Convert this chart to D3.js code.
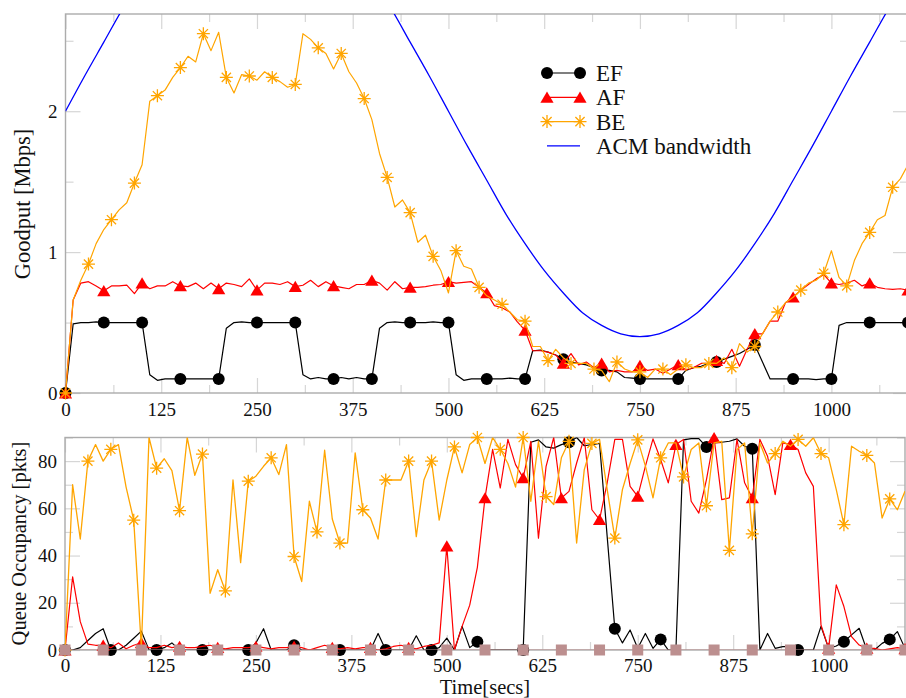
<!DOCTYPE html>
<html>
<head>
<meta charset="utf-8">
<script src="https://cdn.jsdelivr.net/npm/d3@7"></script>
<style>
  body { margin: 0; background: #fff; }
  svg { display: block; }
</style>
</head>
<body>
<svg id="chart" width="906" height="698"></svg>
<script>
// sampling grid (secs) shared by all measured series
const time = d3.range(0, 1101, 10);

// goodput [Mbps], one value per 10 s sample
const efGoodput = [0, 0.49, 0.50, 0.50, 0.505, 0.50, 0.50, 0.50, 0.50, 0.50, 0.50,
  0.13, 0.09, 0.10, 0.10, 0.10, 0.10, 0.10, 0.10, 0.10, 0.10,
  0.46, 0.50, 0.505, 0.50, 0.50, 0.50, 0.50, 0.50, 0.50, 0.50,
  0.13, 0.10, 0.11, 0.10, 0.10, 0.11, 0.10, 0.11, 0.10, 0.10,
  0.46, 0.50, 0.505, 0.50, 0.50, 0.50, 0.50, 0.505, 0.50, 0.50,
  0.13, 0.09, 0.10, 0.10, 0.10, 0.10, 0.10, 0.105, 0.10, 0.10,
  0.30, 0.305, 0.29, 0.27, 0.24, 0.22, 0.21, 0.20, 0.18, 0.16,
  0.16, 0.15, 0.11, 0.105, 0.10, 0.10, 0.10, 0.10, 0.10, 0.10,
  0.16, 0.18, 0.19, 0.21, 0.22, 0.24, 0.26, 0.28, 0.31, 0.34,
  0.22, 0.10, 0.10, 0.10, 0.10, 0.10, 0.10, 0.095, 0.10, 0.10,
  0.48, 0.50, 0.50, 0.50, 0.50, 0.50, 0.50, 0.50, 0.50, 0.50];

const afGoodput = [0, 0.66, 0.78, 0.79, 0.76, 0.725, 0.76, 0.76, 0.765, 0.705, 0.78,
  0.74, 0.76, 0.76, 0.79, 0.76, 0.755, 0.78, 0.74, 0.78, 0.74,
  0.78, 0.77, 0.755, 0.81, 0.73, 0.78, 0.78, 0.77, 0.79, 0.755,
  0.765, 0.80, 0.755, 0.79, 0.76, 0.75, 0.74, 0.77, 0.77, 0.80,
  0.78, 0.73, 0.79, 0.74, 0.75, 0.75, 0.755, 0.765, 0.77, 0.79,
  0.78, 0.785, 0.79, 0.75, 0.71, 0.62, 0.605, 0.575, 0.505, 0.445,
  0.30, 0.30, 0.29, 0.27, 0.21, 0.28, 0.20, 0.22, 0.18, 0.21,
  0.15, 0.16, 0.15, 0.15, 0.195, 0.16, 0.17, 0.14, 0.17, 0.20,
  0.165, 0.18, 0.21, 0.21, 0.23, 0.21, 0.31, 0.19, 0.31, 0.42,
  0.42, 0.51, 0.51, 0.64, 0.68, 0.73, 0.77, 0.81, 0.84, 0.78,
  0.77, 0.78, 0.80, 0.76, 0.78, 0.75, 0.74, 0.735, 0.74, 0.73];

const beGoodput = [0, 0.66, 0.80, 0.915, 1.06, 1.16, 1.23, 1.30, 1.35, 1.49, 1.62,
  2.07, 2.11, 2.15, 2.24, 2.31, 2.39, 2.35, 2.55, 2.43, 2.56,
  2.24, 2.13, 2.26, 2.25, 2.22, 2.28, 2.24, 2.21, 2.17, 2.19,
  2.55, 2.51, 2.45, 2.41, 2.30, 2.41, 2.28, 2.20, 2.09, 1.94,
  1.70, 1.53, 1.32, 1.37, 1.28, 1.07, 1.12, 0.97, 0.87, 0.71,
  1.01, 0.90, 0.88, 0.75, 0.69, 0.66, 0.63, 0.575, 0.52, 0.51,
  0.33, 0.33, 0.23, 0.31, 0.25, 0.21, 0.21, 0.21, 0.17, 0.16,
  0.08, 0.22, 0.17, 0.15, 0.15, 0.11, 0.17, 0.17, 0.13, 0.17,
  0.20, 0.18, 0.18, 0.21, 0.21, 0.25, 0.18, 0.35, 0.29, 0.33,
  0.42, 0.51, 0.575, 0.64, 0.68, 0.73, 0.78, 0.80, 0.85, 1.01,
  0.82, 0.76, 0.94, 1.06, 1.14, 1.23, 1.26, 1.46, 1.52, 1.62];

// ACM link bandwidth, read every 25 s
const acmTime = d3.range(0, 1101, 25);
const acmBandwidth = [2.00, 2.25, 2.49, 2.73, 2.94, 3.13, 3.29, 3.43, 3.52, 3.58, 3.60,
  3.58, 3.52, 3.43, 3.29, 3.13, 2.94, 2.73, 2.49, 2.25, 2.00,
  1.75, 1.51, 1.27, 1.06, 0.87, 0.71, 0.57, 0.48, 0.42, 0.40,
  0.42, 0.48, 0.57, 0.71, 0.87, 1.06, 1.27, 1.51, 1.75, 2.00,
  2.25, 2.49, 2.73, 2.94];

// queue occupancy [pkts], one value per 10 s sample
const efQueue = [0, 0, 1, 4, 7, 9, 0, 0, 2, 5, 8,
  0, 0, 1, 3, 0, 0, 0, 0, 0, 0,
  0, 0, 0, 0, 3, 9, 0, 0, 0, 2,
  0, 0, 0, 0, 0, 0, 0, 0, 0, 0,
  7, 0, 0, 0, 0, 6, 0, 0, 1, 5,
  0, 10, 1, 3.5, 0, 0, 0, 0, 0, 0,
  88, 89, 86, 85.5, 87, 88, 90, 86.5, 87, 87.5,
  48, 9, 3, 8.5, 0.7, 7, 0.7, 4.5, 0, 0,
  89, 89.5, 89.5, 86, 87.7, 88, 88.4, 89.4, 86.3, 85.2,
  0, 7, 0.7, 1.4, 1.4, 0, 0, 0, 10, 0.7,
  1.7, 3.5, 6.4, 9.2, 0, 0, 2.8, 4.5, 7.8, 0.7];

const afQueue = [0, 31, 12, 2.5, 2, 2, 1, 3, 0.5, 2, 3,
  1, 1, 2, 1, 1.5, 1, 1, 1.5, 2, 1,
  0.5, 1, 1, 1, 1.5, 1, 0.5, 1, 1, 1.5,
  1, 0, 1, 2, 1, 0.5, 1, 0.5, 1, 1,
  0, 0.5, 1.5, 2, 1, 0.5, 1.5, 2, 3, 44,
  0, 10, 19, 35, 64.4, 85, 68.6, 89.2, 78.5, 72.9,
  88.4, 47.4, 77.8, 90, 64.4, 67.2, 79.2, 89.9, 59.4, 55.2,
  70.8, 89.2, 89.2, 69.3, 65.1, 77.8, 89.4, 80.7, 70.8, 87,
  89.2, 63, 58, 72.2, 89.9, 63.7, 64.4, 89.2, 70.8, 64.4,
  89.2, 82.1, 65.8, 87.7, 87, 84.9, 75, 69.3, 10.6, 0.7,
  27.6, 18.4, 5.7, 2.1, 0.7, 0.7, 0, 0.5, 1, 0.5];

const beQueue = [0, 70, 47, 80, 87, 80, 85, 87, 69, 55, 1,
  90, 77, 81, 76, 59, 90, 74, 83, 24, 34,
  25, 72, 37, 71.5, 73.6, 77.8, 81.4, 74.3, 87, 39.6,
  29, 63, 50, 84.6, 55.5, 45.3, 45.3, 83.5, 59.4, 55.9,
  47, 72, 72, 72, 80, 48, 72, 80, 55, 72,
  86, 75, 87, 90, 79, 90, 85, 79, 69, 90,
  63, 88.4, 65, 61.6, 81.4, 88.4, 45.3, 76.4, 87.5, 89.2,
  68, 47.4, 68, 79, 89, 78, 64.4, 81.4, 87.7, 87.7,
  73.3, 84.9, 87.7, 61.1, 87.7, 88.4, 42.2, 84.9, 87.7, 49.2,
  87.7, 79.2, 83.2, 88.4, 86.3, 89.2, 86.3, 89.9, 83.2, 81.4,
  67.9, 53.1, 86.3, 84.2, 82.4, 79.2, 55.9, 64, 59.4, 67.2];

// fourth queue, empty the whole run (square markers every 50 s)
const sqTime = d3.range(0, 1101, 50);
const sqQueue = [0, 0, 0, 0, 0, 0, 0, 0, 0, 0, 0, 0, 0, 0, 0, 0, 0, 0, 0, 0, 0, 0, 0];

// tick values
const xMajor = d3.range(0, 1001, 125);
const xMinor = d3.range(62.5, 1100, 125);
const goodputMajor = [0, 1, 2];
const goodputMinor = [0.5, 1.5, 2.5];
const queueMajor = [0, 20, 40, 60, 80];
const queueMinor = [10, 30, 50, 70, 90];

const FONT = '"Liberation Serif", "Times New Roman", Times, serif';
const FRAME_COLOR = '#acacac';
const TICK_COLOR = '#d6d6d6';
const COLORS = { ef: '#000000', af: '#ff0000', be: '#ffa500', acm: '#0000ff', sq: '#bc8f8f' };

const svg = d3.select('#chart').attr('font-family', FONT);

// marker painters, each draws centered on (0,0)
const markers = {
  circle: (g, c) => g.append('circle').attr('r', 6).attr('fill', c),
  triangle: (g, c) => g.append('path').attr('d', 'M0,-5.8L6.6,5.4L-6.6,5.4Z').attr('fill', c),
  star: (g, c) => g.append('path')
    .attr('d', 'M-6.5,0H6.5M0,-6.5V6.5M-4.6,-4.6L4.6,4.6M-4.6,4.6L4.6,-4.6')
    .attr('fill', 'none').attr('stroke', c).attr('stroke-width', 1.3),
  square: (g, c) => g.append('rect').attr('x', -5.5).attr('y', -5.5)
    .attr('width', 11).attr('height', 11).attr('fill', c),
};

function tickAxis(g, axis, values, size, padding, labels) {
  axis.tickValues(values).tickSizeInner(-size).tickSizeOuter(0).tickPadding(padding)
    .tickFormat(labels ? d => String(d) : '');
  g.call(axis)
    .attr('font-family', FONT)
    .attr('font-size', 19);
  g.select('.domain').remove();
  g.selectAll('.tick line').attr('stroke', TICK_COLOR).attr('stroke-width', 1.2);
  g.selectAll('.tick text').attr('fill', '#111');
}

function makePanel(box, yDomain, yMajor, yMinor, labelPad) {
  const x = d3.scaleLinear([0, 1100], [box.left, box.right]);
  const y = d3.scaleLinear(yDomain, [box.bottom, box.top]);
  const g = svg.append('g');
  const clipId = `clip-${Math.round(box.top)}`;

  g.append('defs').append('clipPath').attr('id', clipId)
    .append('rect')
      .attr('x', box.left).attr('y', box.top)
      .attr('width', box.right - box.left).attr('height', box.bottom - box.top);

  const axes = g.append('g');
  // bottom: labelled majors + minors, top/right: mirrored, no labels
  tickAxis(axes.append('g').attr('transform', `translate(0,${box.bottom})`), d3.axisBottom(x), xMajor, 15, labelPad, true);
  tickAxis(axes.append('g').attr('transform', `translate(0,${box.bottom})`), d3.axisBottom(x), xMinor, 8, 0, false);
  tickAxis(axes.append('g').attr('transform', `translate(0,${box.top})`), d3.axisTop(x), xMajor, 15, 0, false);
  tickAxis(axes.append('g').attr('transform', `translate(0,${box.top})`), d3.axisTop(x), xMinor, 8, 0, false);
  tickAxis(axes.append('g').attr('transform', `translate(${box.left},0)`), d3.axisLeft(y), yMajor, 15, 8, true);
  tickAxis(axes.append('g').attr('transform', `translate(${box.left},0)`), d3.axisLeft(y), yMinor, 8, 0, false);
  tickAxis(axes.append('g').attr('transform', `translate(${box.right},0)`), d3.axisRight(y), yMajor, 15, 0, false);
  tickAxis(axes.append('g').attr('transform', `translate(${box.right},0)`), d3.axisRight(y), yMinor, 8, 0, false);

  g.append('rect')
    .attr('x', box.left).attr('y', box.top)
    .attr('width', box.right - box.left).attr('height', box.bottom - box.top)
    .attr('fill', 'none').attr('stroke', FRAME_COLOR).attr('stroke-width', 1.4);

  return { g, x, y, clipId };
}

function drawSeries(panel, s) {
  const pts = s.time.map((t, i) => ({ t, v: s.values[i] }));
  const line = d3.line()
    .x(d => panel.x(d.t))
    .y(d => panel.y(d.v))
    .curve(s.curve || d3.curveLinear);

  panel.g.append('path')
    .datum(pts)
    .attr('clip-path', `url(#${panel.clipId})`)
    .attr('d', line)
    .attr('fill', 'none')
    .attr('stroke', s.color)
    .attr('stroke-width', s.width || 1.2)
    .attr('stroke-linejoin', 'round');

  if (!s.marker) return;
  panel.g.append('g').selectAll('g')
    .data(pts.filter((d, i) => i % s.every === 0))
    .join('g')
      .attr('transform', d => `translate(${panel.x(d.t)},${panel.y(d.v)})`)
      .each(function paintMarker() { markers[s.marker](d3.select(this), s.color); });
}

// ---- top panel: goodput
const goodput = makePanel({ left: 65.5, right: 908, top: 14, bottom: 393 }, [0, 2.69],
  goodputMajor, goodputMinor, 10);
drawSeries(goodput, { time, values: efGoodput, color: COLORS.ef, marker: 'circle', every: 5 });
drawSeries(goodput, { time, values: afGoodput, color: COLORS.af, marker: 'triangle', every: 5 });
drawSeries(goodput, { time, values: beGoodput, color: COLORS.be, marker: 'star', every: 3 });
drawSeries(goodput, { time: acmTime, values: acmBandwidth, color: COLORS.acm, width: 1.3, curve: d3.curveCatmullRom });

// ---- bottom panel: queue occupancy
const queue = makePanel({ left: 65, right: 905, top: 437.5, bottom: 650 }, [0, 90],
  queueMajor, queueMinor, 9);
drawSeries(queue, { time, values: efQueue, color: COLORS.ef, marker: 'circle', every: 6 });
drawSeries(queue, { time, values: afQueue, color: COLORS.af, marker: 'triangle', every: 5 });
drawSeries(queue, { time, values: beQueue, color: COLORS.be, marker: 'star', every: 3, width: 1.3 });
drawSeries(queue, { time: sqTime, values: sqQueue, color: COLORS.sq, marker: 'square', every: 1 });

// ---- legend
const legendItems = [
  { label: 'EF', color: COLORS.ef, marker: 'circle' },
  { label: 'AF', color: COLORS.af, marker: 'triangle' },
  { label: 'BE', color: COLORS.be, marker: 'star' },
  { label: 'ACM bandwidth', color: COLORS.acm, marker: null },
];
const legend = svg.append('g').attr('transform', 'translate(547,73)');
legendItems.forEach((item, i) => {
  const row = legend.append('g').attr('transform', `translate(0,${i * 24.3})`);
  row.append('line').attr('x1', 0).attr('x2', 33)
    .attr('stroke', item.color).attr('stroke-width', item.marker ? 1.2 : 1.4);
  if (item.marker) {
    [0, 33].forEach(px => markers[item.marker](row.append('g').attr('transform', `translate(${px},0)`), item.color));
  }
  row.append('text').attr('x', 49).attr('y', 8)
    .attr('font-size', 23).attr('fill', '#111').text(item.label);
});

// ---- axis titles
svg.append('text')
  .attr('transform', 'translate(30,204) rotate(-90)')
  .attr('text-anchor', 'middle').attr('font-size', 22.5).attr('fill', '#111')
  .text('Goodput [Mbps]');
svg.append('text')
  .attr('transform', 'translate(26,543.5) rotate(-90)')
  .attr('text-anchor', 'middle').attr('font-size', 20.5).attr('fill', '#111')
  .text('Queue Occupancy [pkts]');
svg.append('text')
  .attr('x', 485).attr('y', 694)
  .attr('text-anchor', 'middle').attr('font-size', 20.5).attr('fill', '#111')
  .text('Time[secs]');
</script>
</body>
</html>
